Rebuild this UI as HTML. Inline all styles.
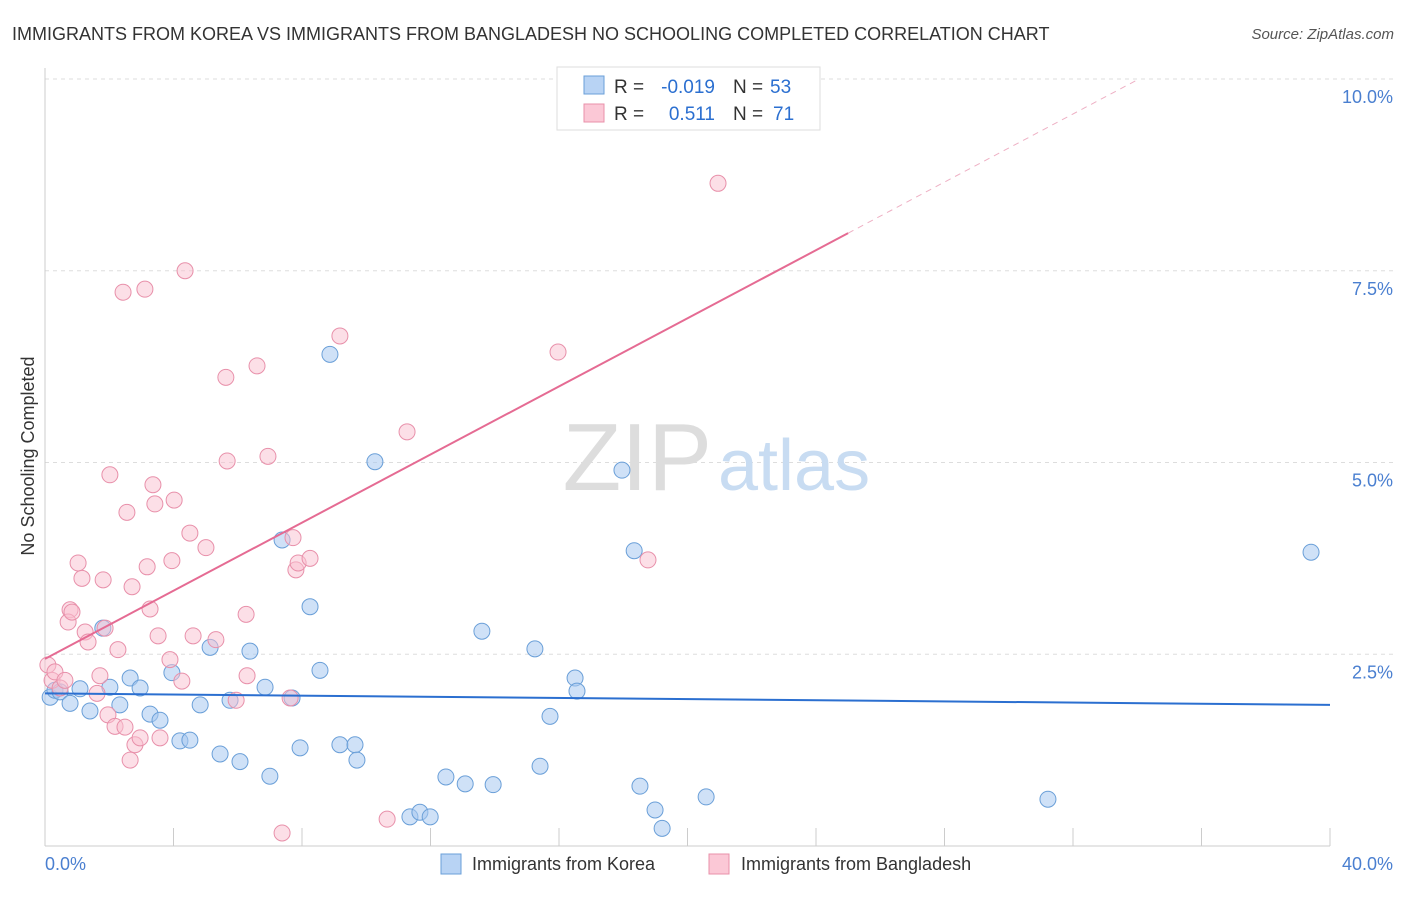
<!DOCTYPE html>
<html><head><meta charset="utf-8"><style>
body{margin:0;background:#fff;font-family:"Liberation Sans",sans-serif}
svg text{font-family:"Liberation Sans",sans-serif}
</style></head><body>
<svg width="1406" height="892" viewBox="0 0 1406 892">
<text x="12" y="40" font-size="18" fill="#333">IMMIGRANTS FROM KOREA VS IMMIGRANTS FROM BANGLADESH NO SCHOOLING COMPLETED CORRELATION CHART</text>
<text x="1394" y="39" font-size="15" fill="#555" font-style="italic" text-anchor="end">Source: ZipAtlas.com</text>
<g id="grid"></g>
<text x="712" y="490" font-size="96" fill="#ddd" text-anchor="end" font-family="Liberation Serif">ZIP</text>
<text x="718" y="490" font-size="72" fill="#c8dcf2">atlas</text>
<line x1="45" y1="68" x2="45" y2="846" stroke="#ccc"/>
<line x1="45" y1="846" x2="1330" y2="846" stroke="#ccc"/>
<g id="ticks"></g>
<g id="marks"></g>
<g id="reg"></g>
<text x="45" y="870" font-size="18" fill="#4a7fd0">0.0%</text>
<text x="1393" y="870" font-size="18" fill="#4a7fd0" text-anchor="end">40.0%</text>
<text transform="translate(34,456) rotate(-90)" font-size="18" fill="#333" text-anchor="middle">No Schooling Completed</text>
<g>
<rect x="557" y="67" width="263" height="63" fill="#fff" stroke="#ddd"/>
<rect x="584" y="76" width="20" height="18" fill="#b8d3f4" stroke="#6a9fd8"/>
<rect x="584" y="104" width="20" height="18" fill="#fbc8d6" stroke="#e890aa"/>
<text x="614" y="93" font-size="19" fill="#333">R =</text>
<text x="715" y="93" font-size="19" fill="#2b6fd0" text-anchor="end">-0.019</text>
<text x="733" y="93" font-size="19" fill="#333">N =</text>
<text x="770" y="93" font-size="19" fill="#2b6fd0">53</text>
<text x="614" y="120" font-size="19" fill="#333">R =</text>
<text x="715" y="120" font-size="19" fill="#2b6fd0" text-anchor="end">0.511</text>
<text x="733" y="120" font-size="19" fill="#333">N =</text>
<text x="773" y="120" font-size="19" fill="#2b6fd0">71</text>
</g>
<g>
<rect x="441" y="854" width="20" height="20" fill="#b8d3f4" stroke="#6a9fd8"/>
<text x="472" y="870" font-size="18" fill="#333">Immigrants from Korea</text>
<rect x="709" y="854" width="20" height="20" fill="#fbc8d6" stroke="#e890aa"/>
<text x="741" y="870" font-size="18" fill="#333">Immigrants from Bangladesh</text>
</g>
</svg>
<script>
const yTicks=[2.5,5.0,7.5,10.0];
const yTickLabels=["2.5%","5.0%","7.5%","10.0%"];
const xTicks=[0,4,8,12,16,20,24,28,32,36,40];
const koreaX=[0.16,0.31,0.47,0.78,1.09,1.40,1.80,2.02,2.33,2.65,2.96,3.27,3.58,3.95,4.20,4.51,4.83,5.14,5.45,5.76,6.07,6.38,6.85,7.00,7.38,7.69,7.94,8.25,8.56,8.87,9.18,9.65,9.71,10.27,11.36,11.67,11.99,12.48,13.08,13.60,13.95,15.25,15.41,15.72,16.50,16.56,17.96,18.34,18.52,18.99,19.21,20.58,31.22,39.41];
const koreaY=[1.94,2.03,2.01,1.86,2.05,1.76,2.84,2.07,1.84,2.19,2.06,1.72,1.64,2.26,1.37,1.38,1.84,2.59,1.20,1.90,1.10,2.54,2.07,0.91,3.99,1.93,1.28,3.12,2.29,6.41,1.32,1.32,1.12,5.01,0.38,0.44,0.38,0.90,0.81,2.80,0.80,2.57,1.04,1.69,2.19,2.02,4.90,3.85,0.78,0.47,0.23,0.64,0.61,3.83];
const bangX=[0.09,0.22,0.31,0.47,0.62,0.78,0.72,0.84,1.03,1.15,1.25,1.34,1.62,1.71,1.81,1.87,1.96,2.02,2.18,2.27,2.43,2.49,2.55,2.65,2.71,2.80,2.96,3.11,3.18,3.27,3.36,3.42,3.52,3.58,3.89,3.95,4.02,4.26,4.36,4.51,4.61,5.01,5.32,5.63,5.67,5.95,6.26,6.29,6.60,6.94,7.38,7.63,7.81,7.88,7.72,8.25,9.18,10.65,11.27,15.97,18.77,20.95];
const bangY=[2.36,2.16,2.27,2.06,2.16,3.08,2.92,3.05,3.69,3.49,2.79,2.66,1.99,2.22,3.47,2.84,1.71,4.84,1.56,2.56,7.22,1.55,4.35,1.12,3.38,1.32,1.41,7.26,3.64,3.09,4.71,4.46,2.74,1.41,2.43,3.72,4.51,2.15,7.50,4.08,2.74,3.89,2.69,6.11,5.02,1.90,3.02,2.22,6.26,5.08,0.17,1.93,3.60,3.69,4.02,3.75,6.65,0.35,5.40,6.44,3.73,8.64];
const koreaLine=[1.99,1.84];
const bangLine=[2.44,0.222];
const NS="http://www.w3.org/2000/svg";
const X=v=>45+v/40*1285, Y=v=>846-v*76.7;
function mk(t,a,p){const e=document.createElementNS(NS,t);for(const k in a)e.setAttribute(k,a[k]);document.getElementById(p).appendChild(e);return e;}
yTicks.forEach((v,i)=>{
 const l=mk('line',{x1:45,x2:1395,y1:Y(v),y2:Y(v),stroke:'#ddd','stroke-dasharray':'4,4'},'grid');
 
 
 const t=mk('text',{x:1393,y:Y(v)+24,'font-size':18,fill:'#4a7fd0','text-anchor':'end'},'grid');
 t.textContent=yTickLabels[i];
 
 
});
xTicks.forEach(v=>{
 const l=mk('line',{x1:X(v),x2:X(v),y1:828,y2:846,stroke:'#ccc'},'ticks');
 
 
});
koreaX.forEach((v,i)=>{
 const c=mk('circle',{cx:X(v),cy:Y(koreaY[i]),r:8,fill:'rgba(168,200,240,0.55)',stroke:'#6a9fd8','stroke-width':1},'marks');
 
 
});
bangX.forEach((v,i)=>{
 const c=mk('circle',{cx:X(v),cy:Y(bangY[i]),r:8,fill:'rgba(249,192,208,0.5)',stroke:'#e890aa','stroke-width':1},'marks');
 
 
});
const kl=mk('line',{x1:X(0),y1:Y(koreaLine[0]),x2:X(40),y2:Y(koreaLine[1]),stroke:'#2b6fd0','stroke-width':2},'reg');


const xe=25, xd=(10-bangLine[0])/bangLine[1];
const bl=mk('line',{x1:X(0),y1:Y(bangLine[0]),x2:X(xe),y2:Y(bangLine[0]+bangLine[1]*xe),stroke:'#e56b93','stroke-width':2},'reg');


const bd=mk('line',{x1:X(xe),y1:Y(bangLine[0]+bangLine[1]*xe),x2:X(xd),y2:Y(10),stroke:'#eeb0c4','stroke-width':1,'stroke-dasharray':'6,5'},'reg');


</script>
</body></html>
